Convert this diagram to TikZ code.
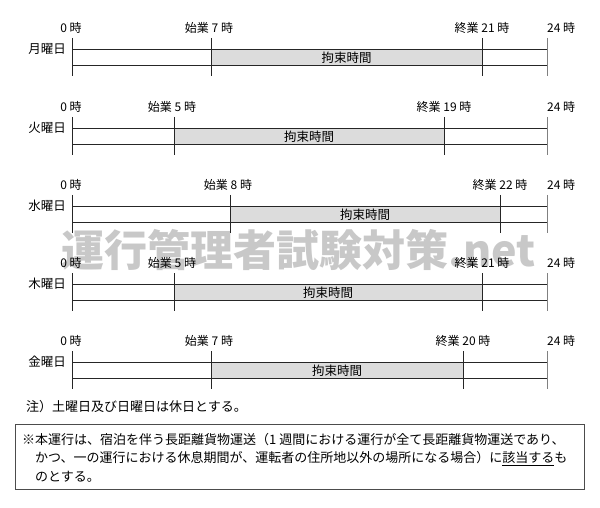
\documentclass[tikz,border=0pt]{standalone}
\usepackage{fontspec}
\setmainfont{Noto Sans CJK JP}
\usepackage{tikz}
\usetikzlibrary{calc}
\definecolor{bandgray}{RGB}{220,220,220}
\definecolor{markgray}{RGB}{200,200,200}
\tikzset{
	rule/.style={draw=black!85, line width=0.8pt},
	endrule/.style={draw=black!50, line width=0.8pt},
	band/.style={fill=bandgray},
	hourlab/.style={inner sep=0pt, font=\fontsize{12}{14}\selectfont},
	daylab/.style={inner sep=0pt, font=\fontsize{12.5}{14}\selectfont},
	notelab/.style={inner sep=0pt, anchor=west, font=\fontsize{13}{15}\selectfont}
}
\def\dayrow[#1](#2)(#3:#4)#5#6#7{
	\fill[band] (#3, #2) rectangle (#4, #2+16);
	\draw[rule] (72, #2) -- (547, #2);
	\draw[rule] (72, #2+16) -- (547, #2+16);
	\draw[rule] (72, #2-11) -- (72, #2+27);
	\draw[rule] (#3, #2-11) -- (#3, #2+27);
	\draw[rule] (#4, #2-11) -- (#4, #2+27);
	\draw[endrule] (547, #2-11) -- (547, #2+27);
	\node[daylab, anchor=east] (#1-day) at (66, #2) {#5};
	\node[hourlab] (#1-zero) at (71, #2-21) {0 時};
	\node[hourlab] (#1-start) at (#3-2, #2-21) {始業 #6 時};
	\node[hourlab] (#1-end) at (#4, #2-21) {終業 #7 時};
	\node[hourlab, anchor=west] (#1-full) at (547, #2-21) {24 時};
	\node[daylab] (#1-bind) at ({(#3+#4)/2}, #2+8.5) {拘束時間};
}
\begin{document}
\begin{tikzpicture}[x=1pt, y=-1pt]
		%%%%% START %%%%%
		\useasboundingbox (0, 0) rectangle (600, 508);
		
		\node[inner sep=0pt, anchor=west, text=markgray, font=\fontsize{43}{46}\selectfont\bfseries] (mark) at (61, 250) {運行管理者試験対策.net};
		
		\dayrow[mon](49)(211:482){月曜日}{7}{21}
		\dayrow[tue](128)(174:444){火曜日}{5}{19}
		\dayrow[wed](206)(230:500){水曜日}{8}{22}
		\dayrow[thu](284)(174:482){木曜日}{5}{21}
		\dayrow[fri](362)(211:463){金曜日}{7}{20}
		
		\node[notelab] (note) at (26, 407) {注）土曜日及び日曜日は休日とする。};
		
		\draw[draw=black!70, line width=1pt] (15, 424) rectangle (584, 489);
		\node[notelab] (box-a) at (22, 440) {※本運行は、宿泊を伴う長距離貨物運送（1 週間における運行が全て長距離貨物運送であり、};
		\node[notelab] (box-b) at (35, 458.5) {かつ、一の運行における休息期間が、運転者の住所地以外の場所になる場合）に\underline{該当する}も};
		\node[notelab] (box-c) at (35, 477) {のとする。};
		%%%%% END %%%%%
	\end{tikzpicture}
\end{document}
